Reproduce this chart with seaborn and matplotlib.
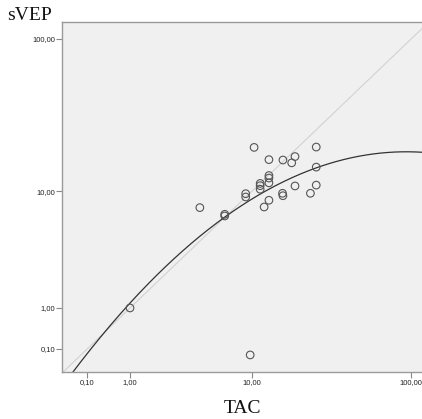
import numpy as np
import pandas as pd
import matplotlib
matplotlib.use("Agg")
import matplotlib.pyplot as plt
import seaborn as sns

# ---- data ----
tac = [1.0, 9.7, 4.3, 6.5, 6.5, 9.05, 9.05, 10.3, 11.3, 11.3, 11.3, 12.0,
       12.9, 12.9, 12.9, 12.9, 12.9, 15.9, 15.8, 15.9, 18.1, 19.0, 19.0,
       23.8, 25.9, 25.9, 25.9]
svep = [1.0, 0.008, 7.64, 6.84, 6.65, 9.59, 9.09, 19.8, 11.3, 10.9, 10.3, 7.72,
        16.4, 12.8, 12.3, 11.4, 8.62, 16.3, 9.65, 9.28, 15.6, 17.2, 10.85,
        9.65, 19.9, 14.6, 11.0]
tick_values = [0.1, 1.0, 10.0, 100.0]
tick_labels = ["0,10", "1,00", "10,00", "100,00"]
x_label = "TAC"
y_label = "sVEP"

df = pd.DataFrame({"TAC": tac, "sVEP": svep})

sns.set_theme(style="white")
plt.rcParams["font.family"] = ["Liberation Sans", "DejaVu Sans"]

fig = plt.figure(figsize=(4.22, 4.19), dpi=100)
ax = fig.add_axes([62 / 422, 1 - 372 / 419, (422 - 62) / 422, (372 - 22) / 419])
ax.set_facecolor("#f0f0f0")


def fwd(v):
    return np.log10(np.asarray(v, dtype=float) + 1.0)


def inv(u):
    return 10 ** np.asarray(u, dtype=float) - 1.0


ax.set_xscale("function", functions=(fwd, inv))
ax.set_yscale("function", functions=(fwd, inv))
xlim = (-0.226, 116.7)
ylim = (-0.214, 128.5)
ax.set_xlim(*xlim)
ax.set_ylim(*ylim)

# identity reference line
ax.plot([xlim[0], xlim[1]], [xlim[0], xlim[1]], color="#d2d2d2", lw=0.8, zorder=1)

# quadratic fit in the axis' transformed space
ux = fwd(df["TAC"])
uy = fwd(df["sVEP"])
coef = np.polyfit(ux, uy, 2)
ug = np.linspace(fwd(xlim[0]), fwd(xlim[1]), 300)
ax.plot(inv(ug), inv(np.polyval(coef, ug)), color="#333333", lw=0.9, zorder=2)

sns.scatterplot(data=df, x="TAC", y="sVEP", ax=ax, marker="o", s=30,
                facecolor="none", edgecolor="#555555", linewidth=0.8, zorder=3)

ax.set_xticks(tick_values)
ax.set_xticklabels(tick_labels)
ax.set_yticks(tick_values)
ax.set_yticklabels(tick_labels)
ax.minorticks_off()
ax.tick_params(axis="both", which="major", direction="out", length=4, width=0.8,
               color="#888888", labelsize=5.5, labelcolor="#222222", pad=1,
               bottom=True, left=True)
for side in ["left", "bottom", "top"]:
    ax.spines[side].set_visible(True)
    ax.spines[side].set_color("#9a9a9a")
    ax.spines[side].set_linewidth(1.0)
ax.spines["right"].set_visible(False)
ax.set_xlabel("")
ax.set_ylabel("")

fig.text(29 / 422, 1 - 16 / 419, y_label, family=["Liberation Serif"], fontsize=14,
         ha="center", va="center", color="#111111")
fig.text(242 / 422, 1 - 408 / 419, x_label, family=["Liberation Serif"], fontsize=14,
         ha="center", va="center", color="#111111")

fig.savefig("out.png", dpi=100, facecolor="white")
